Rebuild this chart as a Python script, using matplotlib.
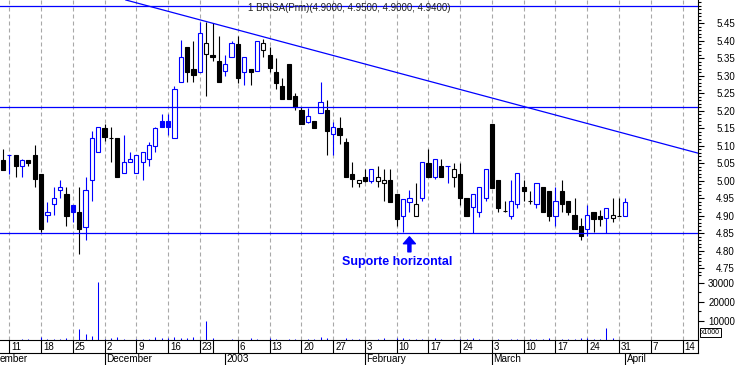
import matplotlib
matplotlib.use('Agg')
import matplotlib.pyplot as plt
import numpy as np
import pandas as pd

plt.rcParams['font.family'] = ['Liberation Sans', 'DejaVu Sans']

# ---- dados (BRISA, diario) ----
first_day = '2002-11-08'
holidays = ['2002-12-24', '2002-12-25', '2002-12-26', '2003-01-01']
hidden_ticks = ['2002-12-30']

opens = [
    5.059, 5.075, 5.074, 5.042, 5.059, 5.074, 5.019, 4.901, 4.933, 4.973,
    4.961, 4.931, 4.910, 4.869, 5.002, 5.081, 5.150, 5.122, 5.121, 5.021,
    5.053, 5.021, 5.053, 5.061, 5.100, 5.172, 5.172, 5.121, 5.281, 5.382,
    5.319, 5.312, 5.361, 5.359, 5.342, 5.314, 5.353, 5.391, 5.312, 5.319,
    5.314, 5.374, 5.359, 5.312, 5.271, 5.334, 5.242, 5.203, 5.169, 5.171,
    5.193, 5.202, 5.134, 5.150, 5.112, 5.019, 4.993, 5.010, 5.000, 5.000,
    4.993, 5.002, 4.962, 4.900, 4.940, 4.900, 4.950, 5.052, 5.012, 5.043,
    5.043, 5.012, 5.019, 4.952, 4.924, 4.910, 4.950, 5.162, 5.002, 4.914,
    4.900, 4.933, 4.981, 4.942, 4.933, 4.981, 4.972, 4.900, 4.972, 4.942,
    4.902, 4.871, 4.861, 4.910, 4.900, 4.893, 4.893, 4.900, 4.900,
]
highs = [
    5.090, 5.075, 5.074, 5.061, 5.059, 5.102, 5.019, 4.940, 4.981, 5.002,
    4.981, 4.931, 4.981, 5.010, 5.143, 5.153, 5.162, 5.153, 5.121, 5.131,
    5.081, 5.074, 5.081, 5.112, 5.153, 5.191, 5.191, 5.271, 5.402, 5.382,
    5.399, 5.455, 5.455, 5.450, 5.414, 5.359, 5.399, 5.414, 5.353, 5.319,
    5.400, 5.404, 5.383, 5.350, 5.293, 5.334, 5.250, 5.212, 5.209, 5.171,
    5.281, 5.231, 5.169, 5.181, 5.121, 5.055, 5.002, 5.033, 5.033, 5.042,
    5.033, 5.033, 4.962, 4.948, 4.974, 4.993, 5.053, 5.090, 5.062, 5.061,
    5.043, 5.052, 5.052, 4.952, 4.961, 4.981, 5.033, 5.162, 5.002, 4.943,
    5.002, 5.021, 5.002, 4.972, 4.993, 4.981, 4.972, 4.981, 5.002, 4.942,
    4.950, 4.893, 4.931, 4.910, 4.917, 4.923, 4.952, 4.952, 4.950,
]
lows = [
    5.031, 5.020, 5.012, 5.012, 5.043, 4.983, 4.855, 4.883, 4.902, 4.952,
    4.872, 4.883, 4.791, 4.831, 4.943, 5.081, 5.115, 5.055, 5.012, 5.021,
    5.053, 5.021, 5.002, 5.043, 5.081, 5.153, 5.131, 5.121, 5.281, 5.283,
    5.283, 5.312, 5.243, 5.343, 5.281, 5.299, 5.353, 5.279, 5.274, 5.274,
    5.314, 5.353, 5.312, 5.261, 5.233, 5.233, 5.202, 5.161, 5.164, 5.152,
    5.193, 5.074, 5.074, 5.104, 5.012, 4.983, 4.983, 4.996, 4.995, 4.983,
    4.942, 4.940, 4.872, 4.855, 4.912, 4.900, 4.943, 5.012, 5.004, 5.012,
    4.995, 4.983, 4.931, 4.900, 4.850, 4.896, 4.943, 4.980, 4.912, 4.910,
    4.891, 4.921, 4.943, 4.933, 4.921, 4.912, 4.886, 4.871, 4.912, 4.902,
    4.862, 4.831, 4.842, 4.855, 4.871, 4.850, 4.883, 4.900, 4.900,
]
closes = [
    5.031, 5.075, 5.043, 5.060, 5.052, 5.004, 4.863, 4.910, 4.950, 4.981,
    4.900, 4.912, 4.863, 4.974, 5.121, 5.153, 5.124, 5.122, 5.012, 5.053,
    5.061, 5.074, 5.081, 5.102, 5.150, 5.153, 5.155, 5.261, 5.353, 5.312,
    5.303, 5.421, 5.393, 5.353, 5.281, 5.333, 5.393, 5.293, 5.353, 5.312,
    5.400, 5.393, 5.321, 5.280, 5.233, 5.233, 5.212, 5.161, 5.185, 5.152,
    5.224, 5.143, 5.153, 5.131, 5.012, 5.005, 5.002, 5.000, 5.033, 5.012,
    5.002, 4.940, 4.892, 4.948, 4.951, 4.934, 5.053, 5.012, 5.062, 5.012,
    5.043, 5.033, 4.952, 4.900, 4.961, 4.981, 5.033, 4.980, 4.923, 4.914,
    4.942, 5.021, 4.972, 4.942, 4.993, 4.912, 4.900, 4.942, 4.934, 4.910,
    4.862, 4.843, 4.902, 4.891, 4.890, 4.923, 4.902, 4.900, 4.940,
]
volumes = [
    0, 0, 0, 500, 500, 0, 1400, 500, 500, 500,
    1000, 0, 5800, 3100, 2100, 30400, 500, 1200, 1700, 500,
    0, 500, 500, 500, 1700, 1000, 1000, 1700, 1000, 1000,
    1700, 0, 10100, 1000, 0, 0, 500, 0, 0, 1000,
    500, 0, 1000, 500, 0, 500, 500, 0, 500, 500,
    1700, 1000, 0, 0, 1000, 500, 500, 0, 0, 500,
    1000, 0, 1000, 1000, 500, 500, 500, 0, 1000, 500,
    0, 500, 500, 500, 1000, 500, 0, 0, 500, 0,
    500, 500, 0, 500, 500, 500, 1000, 0, 500, 500,
    500, 1000, 1000, 500, 500, 6400, 1000, 0, 0,
]

support = 4.85
resistances = [5.21, 5.50]
trend = [('2002-12-23', 5.46), ('2003-04-04', 5.12)]

blue = '#0000ff'

# calendario de sessoes
cal = pd.bdate_range('2002-10-28', '2003-04-30')
cal = cal[~cal.isin(pd.to_datetime(holidays))]
start = cal.get_loc(pd.Timestamp(first_day))


def xpos(d):
    return cal.get_loc(pd.Timestamp(d)) - start


O = np.array(opens); Hh = np.array(highs); L = np.array(lows); C = np.array(closes)
x = np.arange(len(C))
prev = np.r_[O[0], C[:-1]]
col = np.where(C > prev, blue, 'black')
face = np.where(C > O, 'white', col)

W, H = 738, 365
AXR, PB, VB, ROW = 698, 277, 340, 353
step, x0 = 6.351, 2.95

fig = plt.figure(figsize=(W / 100, H / 100), dpi=100)
ax = fig.add_axes([0, 1 - PB / H, AXR / W, PB / H])
axv = fig.add_axes([0, 1 - VB / H, AXR / W, (VB - PB) / H], sharex=ax)
axd = fig.add_axes([0, 0, AXR / W, 1 - VB / H], sharex=ax)

ax.set_xlim(-x0 / step, (AXR - x0) / step)
ax.set_ylim(4.7251, 5.5166)
axv.set_ylim(0, 33100)
axd.set_ylim(0, 1)
xl, xr = ax.get_xlim()

# eixos de datas
mondays = [d for d in cal if d.weekday() == 0 and xl < xpos(d) < xr]
hidden = pd.to_datetime(hidden_ticks)
month_starts = [d for i, d in enumerate(cal) if i > 0 and d.month != cal[i - 1].month]

for d in mondays:
    if d in hidden:
        continue
    for a in (ax, axv):
        a.axvline(xpos(d), color='#a8a8a8', lw=0.8, ls=(0, (3.6, 2.7)), zorder=0)

# velas
ax.vlines(x, L, Hh, colors=col, lw=0.8, zorder=2)
ax.bar(x, np.abs(C - O), bottom=np.minimum(O, C), width=0.66,
       color=face, edgecolor=col, linewidth=0.8, zorder=3)

# linhas de suporte / resistencia / tendencia
ax.axhline(support, color=blue, lw=0.9, zorder=4)
for r in resistances:
    ax.axhline(r, color=blue, lw=0.9, zorder=4)
ax.axline((xpos(trend[0][0]), trend[0][1]), (xpos(trend[1][0]), trend[1][1]),
          color=blue, lw=0.9, zorder=4)

ax.annotate('', xy=(xpos('2003-02-12'), 4.840), xytext=(xpos('2003-02-12'), 4.797),
            arrowprops=dict(facecolor=blue, edgecolor=blue, width=2.2,
                            headwidth=8.6, headlength=5, shrink=0))
ax.text(xpos('2003-02-10') + 0.1, 4.7666, 'Suporte horizontal', color=blue,
        fontsize=9, fontweight='bold', ha='center', va='center')

title = '1 BRISA(Prm)({:.4f}, {:.4f}, {:.4f}, {:.4f})'.format(O[-1], Hh[-1], L[-1], C[-1])
ax.text(0.5, 1 - 8 / PB, title, transform=ax.transAxes, ha='center', va='center',
        fontsize=7, color='#222222', zorder=6)

# volume
axv.vlines(x, 0, volumes, colors=blue, lw=0.75)

for a in (ax, axv, axd):
    for s in ('top', 'left', 'bottom'):
        a.spines[s].set_visible(False)
    a.spines['right'].set_linewidth(0.8)
    a.tick_params(axis='x', which='both', bottom=False, labelbottom=False)
axd.spines['right'].set_visible(False)
axd.set_yticks([])

pad = (735 - AXR - 6) * 0.72
ax.set_yticks(np.round(np.arange(4.75, 5.451, 0.05), 2))
ax.set_yticklabels(['{:.2f}'.format(v) for v in ax.get_yticks()])
ax.set_yticks(np.round(np.arange(4.73, 5.515, 0.01), 2), minor=True)
axv.set_yticks([10000, 20000, 30000])
axv.set_yticklabels(['10000', '20000', '30000'])
axv.set_yticks([15000, 25000], minor=True)
for a in (ax, axv):
    a.yaxis.tick_right()
    a.tick_params(axis='y', which='major', length=4.3, width=0.8, labelsize=7, pad=pad)
    a.tick_params(axis='y', which='minor', length=2.4, width=0.8)
    plt.setp(a.get_yticklabels(), ha='right')

# linhas das datas
row = (H - ROW) / (H - VB)
axd.plot([xl, xr], [1, 1], color='black', lw=0.8, clip_on=False)
axd.plot([xl, xr], [row, row], color='black', lw=0.8, clip_on=False)
axd.plot([xr, xr], [row, 1], color='black', lw=0.8, clip_on=False)
for d in mondays:
    xp = xpos(d)
    axd.vlines(xp, row, 1, color='black', lw=0.8)
    if d not in hidden:
        axd.text(xp + 0.3, (1 + row) / 2, str(d.day), fontsize=7, ha='left', va='center')
for d in month_starts:
    xp = xpos(d)
    name = str(d.year) if d.month == 1 else d.strftime('%B')
    if xp > xl:
        axd.vlines(xp, 0, row, color='black', lw=0.8)
        axd.text(xp + 0.25, row / 2, name, fontsize=7.2, ha='left', va='center')
    elif xp > xl - 8:
        # mes ja iniciado antes da janela: so se ve o fim do nome
        axd.text(xl, row / 2, name[3:], fontsize=7.2, ha='left', va='center')

fig.text(701 / W, 1 - 332.5 / H, 'x1000', fontsize=5, ha='left', va='center',
         bbox=dict(boxstyle='square,pad=0.2', fc='white', ec='black', lw=0.7))

fig.savefig('out.png', dpi=100)
